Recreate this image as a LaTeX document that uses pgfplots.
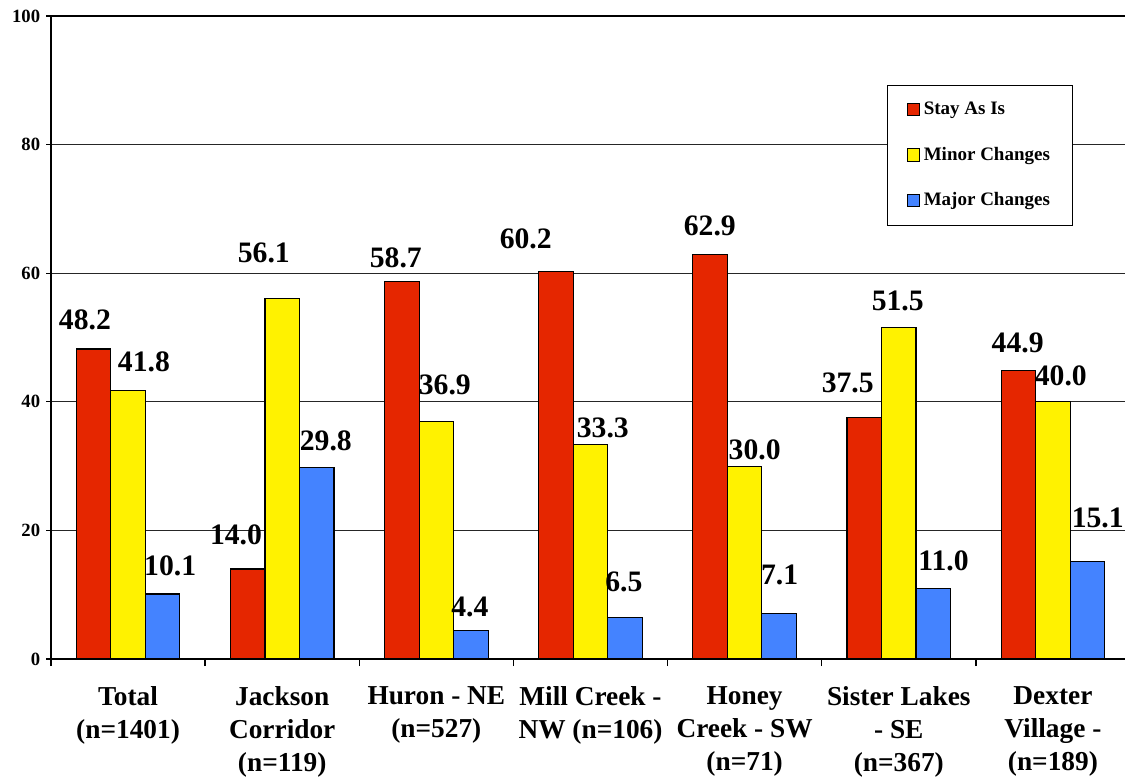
\documentclass[border=0pt]{standalone}
\usepackage{pgfplots}
\usepackage{pgfplotstable}
\pgfplotsset{compat=1.18}
\usepackage{fontspec}
\setmainfont{Liberation Serif}
\definecolor{cred}{RGB}{229,38,0}
\definecolor{cyel}{RGB}{255,242,0}
\definecolor{cblu}{RGB}{68,131,255}

\pgfplotstableread{
x stay minor major
0 48.2 41.8 10.1
1 14.0 56.1 29.8
2 58.7 36.9 4.4
3 60.2 33.3 6.5
4 62.9 30.0 7.1
5 37.5 51.5 11.0
6 44.9 40.0 15.1
}\datatab

\pgfplotstableread{
x y lab
-0.28 52.7 48.2
0.103 46.2 41.8
0.273 14.5 10.1
0.70 19.3 14.0
0.881 63.1 56.1
1.283 33.9 29.8
1.737 62.4 58.7
2.055 42.6 36.9
2.217 8.1 4.4
2.58 65.3 60.2
3.08 35.9 33.3
3.216 12.0 6.5
3.774 67.3 62.9
4.065 32.5 30.0
4.227 13.1 7.1
4.669 42.9 37.5
4.993 55.7 51.5
5.29 15.2 11.0
5.771 49.1 44.9
6.051 44.0 40.0
6.291 21.9 15.1
}\labtab

\pgfplotsset{
  mybar/.style={ybar, bar width=0.224, bar shift=#1, draw=black, line width=0.7pt,
    legend image code/.code={\draw[##1, line width=0.7pt] (0pt,-3.7pt) rectangle (7.4pt,3.7pt);}},
}

\begin{document}
\begin{tikzpicture}
\begin{axis}[
  at={(30.6pt,71.4pt)}, anchor=south west,
  scale only axis, width=647.4pt, height=385.8pt,
  xmin=-0.5, xmax=6.5, ymin=0, ymax=100,
  xtick={0,...,6},
  xticklabels={{Total\\(n=1401)},{Jackson\\Corridor\\(n=119)},{Huron - NE\\(n=527)},{Mill Creek -\\NW (n=106)},{Honey\\Creek - SW\\(n=71)},{Sister Lakes\\- SE\\(n=367)},{Dexter\\Village -\\(n=189)}},
  minor xtick={-0.5,0.5,...,6.5},
  ytick={0,20,...,100},
  tick pos=left,
  ymajorgrids, grid style={black!85, line width=0.6pt},
  tick align=outside,
  major tick length=3pt, minor tick length=4.2pt,
  major x tick style={draw=none},
  minor x tick style={black, line width=0.8pt},
  ytick style={black, line width=0.8pt},
  axis line style={black, line width=1pt},
  /pgf/number format/assume math mode=true,
  yticklabel style={font=\fontsize{11.2}{13}\selectfont\bfseries},
  xticklabel style={align=center, font=\fontsize{16.4}{19.8}\selectfont\bfseries, yshift=-10.2pt},
  legend style={at={(0.775,0.893)}, anchor=north west, draw=black, line width=0.7pt,
    font=\fontsize{11.4}{13}\selectfont\bfseries, row sep=14pt,
    inner xsep=11.5pt, inner ysep=8pt},
  legend cell align=left,
]
\addplot[mybar=-0.224, fill=cred] table[x=x, y=stay] {\datatab};
\addplot[mybar=0, fill=cyel] table[x=x, y=minor] {\datatab};
\addplot[mybar=0.224, fill=cblu] table[x=x, y=major] {\datatab};
\legend{Stay As Is, Minor Changes, Major Changes}
\addplot[only marks, mark=*, mark size=0pt, mark options={draw=none, fill=none},
  nodes near coords, point meta=explicit symbolic,
  nodes near coords style={anchor=center, inner sep=0pt, text=black,
    font=\fontsize{17.8}{20}\selectfont\bfseries}]
  table[x=x, y=y, meta=lab] {\labtab};
\end{axis}
\pgfresetboundingbox
\path[use as bounding box] (0,0) rectangle (675pt,466.8pt);
\end{tikzpicture}
\end{document}
